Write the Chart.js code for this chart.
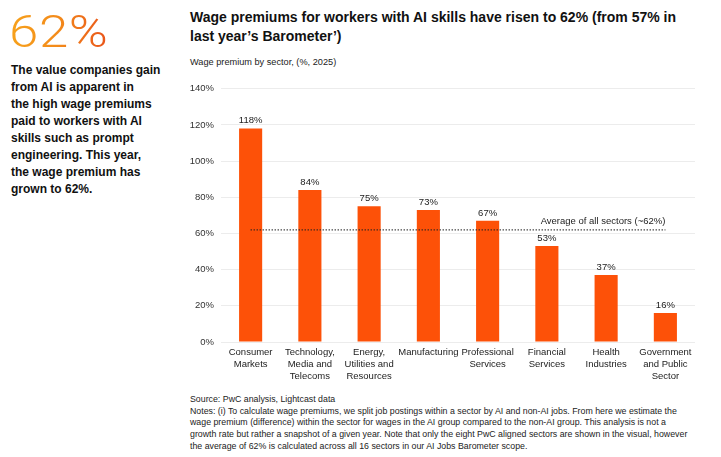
<!DOCTYPE html>
<html>
<head>
<meta charset="utf-8">
<script src="https://cdn.jsdelivr.net/npm/chart.js@4"></script>
<style>
  body { margin: 0; background: #fff; font-family: "Liberation Sans", Arial, sans-serif; color: #111; }
  #wrap { position: relative; width: 721px; height: 457px; overflow: hidden; }
  #big { position: absolute; left: 9px; top: 6px; font-family: Roboto, sans-serif; font-weight: 300; font-size: 44px; letter-spacing: 0.5px;
         transform: scaleX(1.2); transform-origin: 0 0;
         background: linear-gradient(90deg, #f7a21b 0%, #f38a1a 50%, #e9531a 100%); -webkit-background-clip: text; background-clip: text; color: transparent; }
  #intro { position: absolute; left: 11px; top: 62px; font-weight: bold; font-size: 12px; line-height: 17px; color: #111; }
  #title { position: absolute; left: 190px; top: 8px; font-weight: bold; font-size: 14px; line-height: 19px; color: #111; }
  #sub { position: absolute; left: 190px; top: 57px; font-size: 9.2px; color: #222; }
  #notes { position: absolute; left: 190px; top: 394px; font-size: 8.8px; line-height: 11.7px; color: #222; }
  #box { position: absolute; left: 185px; top: 76px; width: 510px; height: 313px; }
</style>
</head>
<body>
<div id="wrap">
  <div id="big">62%</div>
  <div id="intro">The value companies gain<br>from AI is apparent in<br>the high wage premiums<br>paid to workers with AI<br>skills such as prompt<br>engineering. This year,<br>the wage premium has<br>grown to 62%.</div>
  <div id="title">Wage premiums for workers with AI skills have risen to 62% (from 57% in<br>last year’s Barometer’)</div>
  <div id="sub">Wage premium by sector, (%, 2025)</div>
  <div id="box"><canvas id="myChart"></canvas></div>
  <div id="notes">Source: PwC analysis, Lightcast data<br>Notes: (i) To calculate wage premiums, we split job postings within a sector by AI and non-AI jobs. From here we estimate the<br>wage premium (difference) within the sector for wages in the AI group compared to the non-AI group. This analysis is not a<br>growth rate but rather a snapshot of a given year. Note that only the eight PwC aligned sectors are shown in the visual, however<br>the average of 62% is calculated across all 16 sectors in our AI Jobs Barometer scope.</div>
</div>
<script>
const sectors = [
  ['Consumer', 'Markets'],
  ['Technology,', 'Media and', 'Telecoms'],
  ['Energy,', 'Utilities and', 'Resources'],
  ['Manufacturing'],
  ['Professional', 'Services'],
  ['Financial', 'Services'],
  ['Health', 'Industries'],
  ['Government', 'and Public', 'Sector']
];
const premiums = [118, 84, 75, 73, 67, 53, 37, 16];
const averageAll = 62;
const averageLine = sectors.map(() => averageAll);
const yTicks = [0, 20, 40, 60, 80, 100, 120, 140];

const ORANGE = '#fd5108';

// value labels above bars + text for the average line
const labelPlugin = {
  id: 'labels',
  afterDatasetsDraw(chart) {
    const ctx = chart.ctx;
    ctx.save();
    ctx.font = '9.5px "Liberation Sans", Arial, sans-serif';
    ctx.fillStyle = '#222';
    ctx.textAlign = 'center';
    ctx.textBaseline = 'bottom';
    chart.getDatasetMeta(0).data.forEach((bar, i) => {
      ctx.fillText(premiums[i] + '%', bar.x, bar.y - 3);
    });
    const line = chart.getDatasetMeta(1).data;
    const last = line[line.length - 1];
    ctx.textAlign = 'right';
    ctx.fillText('Average of all sectors (~62%)', last.x, last.y - 4);
    ctx.restore();
  }
};

const config = {
  type: 'bar',
  data: {
    labels: sectors,
    datasets: [
      {
        label: 'Wage premium',
        data: premiums,
        backgroundColor: ORANGE,
        barPercentage: 0.39,
        categoryPercentage: 1,
        order: 2
      },
      {
        type: 'line',
        label: 'Average',
        data: averageLine,
        borderColor: '#222',
        borderWidth: 1.2,
        borderDash: [1.2, 1.8],
        pointRadius: 0,
        fill: false,
        order: 1
      }
    ]
  },
  options: {
    responsive: true,
    maintainAspectRatio: false,
    animation: false,
    layout: { padding: { top: 6, right: 0, left: 0, bottom: 0 } },
    plugins: {
      legend: { display: false },
      tooltip: { enabled: false }
    },
    scales: {
      x: {
        grid: { display: false },
        border: { display: false },
        ticks: {
          color: '#222',
          font: { family: '"Liberation Sans", Arial, sans-serif', size: 9.5, lineHeight: 1.28 },
          padding: -4,
          maxRotation: 0,
          autoSkip: false
        },
        afterFit(scale) { scale.height = 47; }
      },
      y: {
        min: 0,
        max: 140,
        afterBuildTicks(scale) { scale.ticks = yTicks.map(v => ({ value: v })); },
        grid: { color: '#ececec', drawTicks: false },
        border: { display: false },
        ticks: {
          color: '#333',
          font: { family: '"Liberation Sans", Arial, sans-serif', size: 9.5 },
          padding: 7,
          callback: v => v + '%'
        },
        afterFit(scale) { scale.width = 36; }
      }
    }
  },
  plugins: [labelPlugin]
};

const myChart = new Chart(document.getElementById('myChart'), config);
</script>
</body>
</html>
